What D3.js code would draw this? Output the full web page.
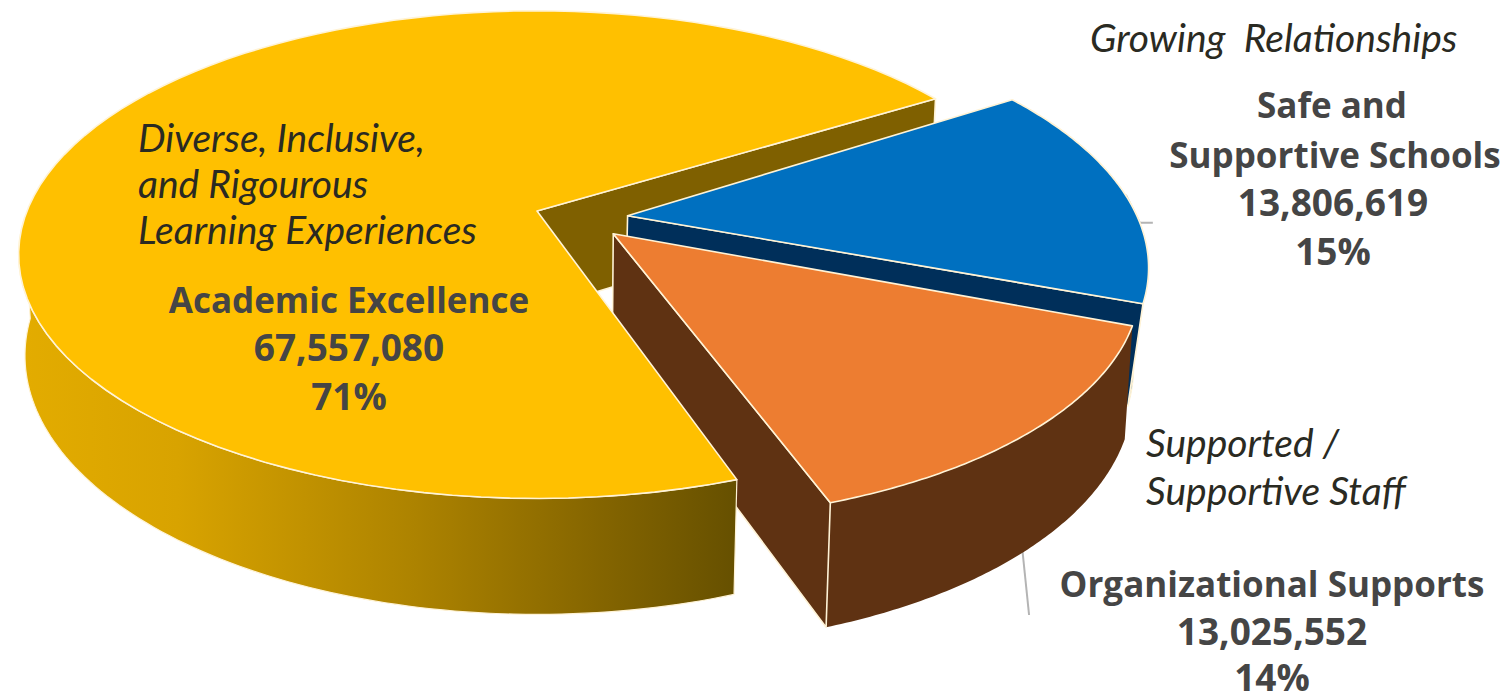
<!DOCTYPE html>
<html>
<head>
<meta charset="utf-8">
<script src="https://cdnjs.cloudflare.com/ajax/libs/d3/7.8.5/d3.min.js"></script>
<style>
  html, body { margin: 0; background: #fff; }
  svg { display: block; }
  text { font-family: "Open Sans", sans-serif; }
  .name { font-weight: 700; fill: #454545; text-anchor: middle; font-size: 35px; }
  .num { font-weight: 700; fill: #454545; text-anchor: middle; font-size: 37px; }
  .theme { font-family: Lato, sans-serif; font-style: italic; font-weight: 400; fill: #2a2a22; font-size: 39px; }
</style>
</head>
<body>
<svg id="chart" width="1512" height="696"></svg>
<script>
// Budget allocation by priority
const categories = ["Academic Excellence", "Safe and Supportive Schools", "Organizational Supports"];
const amounts = [67557080, 13806619, 13025552];
const shareLabels = ["71%", "15%", "14%"];

// Look of each slice: faces, pull-out from the centre, radial stretch, small turn, thickness
const sliceStyle = [
  { top: "#FFC000", wall: "url(#rimShade)", cut: "#7F6000", off: [0, 0], sx: 1, sy: 1, turn: 0, depth: 100, zp: 0.012 },
  { top: "#0070C0", wall: "#2a77b8", cut: "#002F5A", off: [0.177, 0.02], sx: 0.995, sy: 1, turn: -1, depth: 100, zp: 0.024 },
  { top: "#ED7D31", wall: "#5F3212", cut: "#5F3212", off: [0.147, 0.095], sx: 0.995, sy: 0.97, turn: 0, depth: 107, zp: 0.012 }
];

// Perspective camera for the disc: X right, Y toward the viewer, Z down through the thickness
const origin = [537, 211], radius = 510, tilt = 236, persp = 0.179;
function project(X, Y, Z, st) {
  const s = 1 / (1 - persp * Y + st.zp * Z);
  return [origin[0] + radius * X * s, origin[1] + (tilt * Y + st.depth * Z) * s];
}

const pie = d3.pie().sort(null)
  .startAngle(161 * Math.PI / 180)
  .endAngle((161 + 360) * Math.PI / 180);
const slices = pie(amounts);

const rim = (i, a, Z) => {
  const st = sliceStyle[i], t = a - Math.PI / 2 + st.turn * Math.PI / 180;
  return project(st.off[0] + st.sx * Math.cos(t), st.off[1] + st.sy * Math.sin(t), Z, st);
};
const apex = (i, Z) => project(sliceStyle[i].off[0], sliceStyle[i].off[1], Z, sliceStyle[i]);
const sweep = (a0, a1) => d3.range(0, 97).map(k => a0 + (a1 - a0) * k / 96);
const path = d3.line();
const closed = pts => path(pts) + "Z";

const svg = d3.select("#chart");
const grad = svg.append("defs").append("linearGradient")
  .attr("id", "rimShade").attr("gradientUnits", "userSpaceOnUse")
  .attr("x1", 20).attr("x2", 736).attr("y1", 0).attr("y2", 0);
[[0, "#E3AC00"], [0.22, "#D8A300"], [0.55, "#AD8300"], [0.8, "#866600"], [1, "#665000"]]
  .forEach(([o, c]) => grad.append("stop").attr("offset", o).attr("stop-color", c));

const edge = "#FFF3D6";
const face = (d, fill, w = 1.6) => svg.append("path").attr("d", d).attr("fill", fill)
  .attr("stroke", edge).attr("stroke-width", w).attr("stroke-linejoin", "round");

// Leader lines sit beneath the slices
const blueAnchor = rim(1, 92.7 * Math.PI / 180, 0);
const orangeAnchor = rim(2, 137 * Math.PI / 180, 1);
svg.append("path").attr("fill", "none").attr("stroke", "#b4b4b4").attr("stroke-width", 2)
  .attr("d", path([[blueAnchor[0] - 14, blueAnchor[1] - 28], blueAnchor, [blueAnchor[0] + 13, blueAnchor[1]]]));
svg.append("path").attr("fill", "none").attr("stroke", "#b4b4b4").attr("stroke-width", 2)
  .attr("d", path([[orangeAnchor[0], orangeAnchor[1] - 6], [orangeAnchor[0] + 7, orangeAnchor[1] + 62]]));

// Back slice's cut face, seen through the gap
const y = slices[0], b = slices[1], o = slices[2];
face(closed([apex(0, 0), rim(0, y.endAngle, 0), rim(0, y.endAngle, 1), apex(0, 1)]), sliceStyle[0].cut);

// Blue slice: rim wall, cut face, top
face(closed([...sweep(b.startAngle, b.endAngle).map(a => rim(1, a, 0)),
             ...sweep(b.startAngle, b.endAngle).reverse().map(a => rim(1, a, 1))]), sliceStyle[1].wall, 1.2);
face(closed([apex(1, 0), rim(1, b.endAngle, 0), rim(1, b.endAngle, 1), apex(1, 1)]), sliceStyle[1].cut);
face(closed([apex(1, 0), ...sweep(b.startAngle, b.endAngle).map(a => rim(1, a, 0))]), sliceStyle[1].top);

// Orange slice: rim wall, cut face, top
face(closed([...sweep(o.startAngle, o.endAngle).map(a => rim(2, a, 0)),
             ...sweep(o.startAngle, o.endAngle).reverse().map(a => rim(2, a, 1))]), sliceStyle[2].wall, 0);
face(closed([apex(2, 0), rim(2, o.endAngle, 0), rim(2, o.endAngle, 1), apex(2, 1)]), sliceStyle[2].cut, 1.6);
face(closed([apex(2, 0), ...sweep(o.startAngle, o.endAngle).map(a => rim(2, a, 0))]), sliceStyle[2].top);

// Yellow slice last: its front overlaps the orange cut face
const frontEnd = 178 * Math.PI / 180 + Math.PI / 2;
face(closed([...sweep(y.startAngle, frontEnd).map(a => rim(0, a, 0)),
             ...sweep(y.startAngle, frontEnd).reverse().map(a => rim(0, a, 1))]), sliceStyle[0].wall, 1.2);
face(closed([apex(0, 0), ...sweep(y.startAngle, y.endAngle).map(a => rim(0, a, 0))]), sliceStyle[0].top);

// Labels
const fmt = d3.format(",");
const nameLine = (t, x, yy) => svg.append("text").attr("class", "name").attr("x", x).attr("y", yy).text(t);
const numLine = (t, x, yy) => svg.append("text").attr("class", "num").attr("x", x).attr("y", yy).text(t);
const themeLine = (t, x, yy) => svg.append("text").attr("class", "theme").attr("x", x).attr("y", yy)
  .style("white-space", "pre").text(t);

themeLine("Diverse, Inclusive,", 138, 152);
themeLine("and Rigourous", 138, 198);
themeLine("Learning Experiences", 138, 244);
nameLine(categories[0], 349, 313);
numLine(fmt(amounts[0]), 349, 361);
numLine(shareLabels[0], 349, 410);

themeLine("Growing  Relationships", 1090, 52);
nameLine("Safe and", 1332, 118);
nameLine("Supportive Schools", 1335, 168);
numLine(fmt(amounts[1]), 1333, 216);
numLine(shareLabels[1], 1333, 265);

themeLine("Supported /", 1146, 457);
themeLine("Supportive Staff", 1146, 505);
nameLine(categories[2], 1272, 597);
numLine(fmt(amounts[2]), 1272, 645);
numLine(shareLabels[2], 1272, 691);
</script>
</body>
</html>
